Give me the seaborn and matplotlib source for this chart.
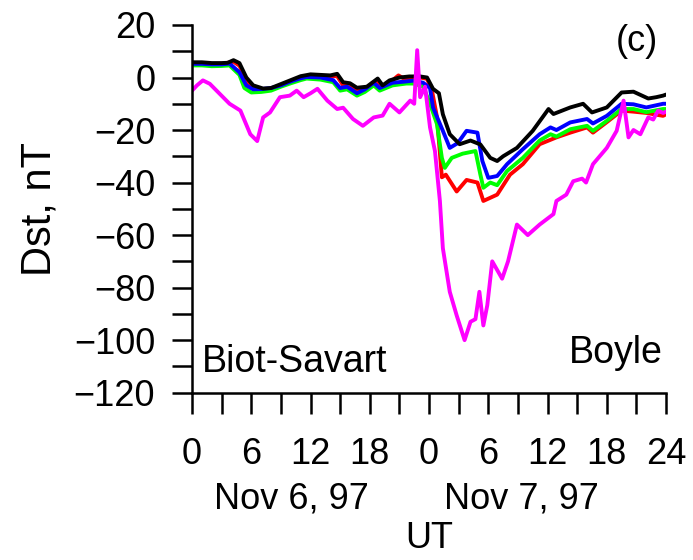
import seaborn as sns
import matplotlib.pyplot as plt
from matplotlib.ticker import MultipleLocator
import pandas as pd

# hours since 00 UT Nov 6, 1997 and Dst (nT)
black_t = [0, 1, 2, 3, 3.6, 4.2, 4.8, 5.5, 6.2, 7.2, 8, 9, 10, 11, 12, 13, 14, 14.7, 15.3, 16, 16.7,
           17.7, 18.8, 19.3, 20, 21, 22, 23.1, 23.8, 24.4, 25, 25.4, 26.1, 27.1, 28.2, 29.2, 30.2, 30.9,
           31.5, 32.9, 34.5, 36.1, 36.6, 38.3, 39.6, 40.5, 42, 43.5, 44.7, 46.2, 47, 47.7, 48]
black_v = [5.8, 5.8, 5.5, 5.5, 5.6, 6.6, 5.5, 0, -3, -4.2, -4, -2.5, -1, 0.5, 1.2, 1, 0.8, 1.4, -1.8, -2.2, -3.9,
           -3.5, -0.4, -3, -1.1, 0, 0.4, 0.4, 0, -4.3, -6, -14, -21.6, -25.4, -24, -25.5, -30.6, -31.8,
           -30, -26.8, -20.3, -12, -13.9, -11.4, -10, -13.3, -11.4, -5.7, -5.4, -8, -7.5, -6.9, -6.5]

blue_t = [0, 1, 2, 3, 3.8, 4.8, 5.5, 6.2, 7, 8, 9, 10, 11, 11.6, 13, 14.3, 15, 15.7, 16.7, 17.5, 18.4, 19,
          20.3, 21.7, 22.4, 23.4, 24.1, 24.4, 25.4, 26.1, 26.9, 27.8, 28.9, 29.4, 30, 30.9, 31.9, 33.5,
          35.2, 36.3, 36.9, 38.3, 40, 40.6, 42, 43.5, 44.7, 46, 47.7, 48]
blue_v = [5.2, 5.2, 5, 5, 5.3, 2, -3, -4.5, -4.4, -4, -3, -1.5, -0.3, 0.2, 0, -1, -4, -3.5, -6, -4.5, -2, -4,
          -2, -1.5, -1.2, -2, -4, -11.4, -20.3, -26.8, -25, -20.3, -21, -31.8, -38.2, -37.5, -33, -27.3,
          -21.6, -19, -20, -17.1, -15.8, -17.5, -14.6, -10, -10.2, -11.4, -10, -10]

green_t = [0, 1, 2, 3, 3.8, 4.8, 5.3, 6, 7, 8, 9, 10, 11, 11.6, 13, 14.3, 15, 15.7, 16.7, 17.5, 18.4, 19,
           20.3, 21.7, 22.4, 23.4, 24.1, 24.8, 25.3, 25.6, 26.3, 27.4, 28.7, 29.2, 29.5, 30.2, 30.9, 31.9,
           33.5, 35.2, 36.3, 36.9, 38.3, 40, 40.6, 42, 43.5, 44.7, 46, 47.7, 48]
green_v = [4.6, 4.6, 4.3, 4.4, 4.6, 1, -4, -5.7, -5.5, -5, -3.5, -2.2, -1, -0.4, -0.8, -1.8, -5, -4.5, -6.9,
           -5.5, -3, -5, -3, -2.3, -2.3, -3.4, -10, -17.7, -30.6, -34.4, -30.6, -29, -28, -37, -42, -40,
           -41, -35.6, -30.6, -24, -21.6, -22.5, -19.7, -18.4, -20.3, -16.5, -12, -12, -13.2, -12, -12]

red_t = [0, 1, 2, 3, 4.2, 4.8, 5.5, 6.2, 7.2, 8, 9, 10, 11, 12, 13, 14.7, 15.3, 16, 16.7, 17.7, 18.8, 19.3,
         20, 20.9, 21.5, 22.5, 23.1, 23.8, 24.3, 24.8, 25.3, 25.7, 26.8, 27.8, 28.9, 29.5, 30.9, 32.2,
         33.5, 35.2, 36.9, 38.3, 40, 40.6, 42, 43.5, 44.7, 46, 47.7, 48]
red_v = [5.4, 5.5, 5, 5.2, 6, 4.5, -1, -4, -5, -4.5, -3, -1.5, 0, 0.6, 0.5, 0.5, -3, -3, -5, -4.5, -1.5, -4,
         -2, 0.8, -0.5, 0, 0, -0.5, -5, -15, -38, -37, -43.4, -39, -40, -47, -44.6, -37,
         -33, -25.4, -22.8, -21, -19, -21, -17, -12.6, -13, -13.5, -14.6, -14]

magenta_t = [0, 0.5, 1.1, 1.8, 2.8, 3.8, 4.9, 5.9, 6.6, 7.2, 7.9, 8.9, 9.9, 10.6, 11.3, 12, 12.7, 13.7,
             14.7, 15.3, 16.3, 17.3, 18.4, 19.3, 20, 21, 22.1, 22.5, 22.8, 23.1, 23.6, 24.1, 24.6, 25.1,
             25.4, 26.1, 26.8, 27.6, 28.2, 28.7, 29.1, 29.5, 29.9, 30.4, 31.4, 32, 32.9, 34, 35.2, 36.6,
             36.9, 37.9, 38.6, 39.5, 39.9, 40.6, 42, 43, 43.7, 44.2, 44.7, 45.4, 46.2, 46.7, 47.2, 47.7, 48]
magenta_v = [-5, -3, -1.1, -2.4, -6.2, -10, -12.6, -21.6, -24.2, -15.2, -13.3, -7.5, -6.9, -5, -7.5, -6,
             -4.3, -8.8, -12, -11.5, -15.8, -18.4, -15.2, -14.5, -10, -13.3, -8.8, -10, 10.4, -7.5, -3.5,
             -19, -28, -47, -65, -81.6, -90.6, -100, -93, -92, -81.6, -94.4, -86.7, -70, -76.6, -70, -56,
             -60, -56, -52, -47, -44.6, -39.5, -38.5, -40, -33, -26.8, -20.3, -8.8, -22.8, -20, -21.6,
             -15.2, -16, -12.6, -13.5, -13]

x_ticks = [0, 6, 12, 18, 24, 30, 36, 42, 48]
x_labels = ['0', '6', '12', '18', '0', '6', '12', '18', '24']

series = {'red': (red_t, red_v), 'lime': (green_t, green_v), 'blue': (blue_t, blue_v),
          'black': (black_t, black_v), 'magenta': (magenta_t, magenta_v)}
df = pd.concat([pd.DataFrame({'UT': t, 'Dst': v, 'run': name}) for name, (t, v) in series.items()])

sns.set_style('ticks')
plt.rcParams['font.family'] = ['Liberation Sans', 'DejaVu Sans']
plt.rcParams['text.color'] = 'black'
plt.rcParams['axes.labelcolor'] = 'black'

fig = plt.figure(figsize=(6.93, 5.6), dpi=100)
ax = fig.add_axes([0.2771, 0.2988, 0.684, 0.6566])
sns.lineplot(data=df, x='UT', y='Dst', hue='run', hue_order=list(series.keys()),
             palette={k: k for k in series}, estimator=None, linewidth=2.8, legend=False, ax=ax)

ax.set_xlim(0, 48)
ax.set_ylim(-120, 20)
ax.set_xticks(x_ticks)
ax.set_xticklabels(x_labels)
ax.xaxis.set_minor_locator(MultipleLocator(3))
ax.yaxis.set_major_locator(MultipleLocator(20))
ax.yaxis.set_minor_locator(MultipleLocator(10))
for which in ['major', 'minor']:
    ax.tick_params(axis='x', which=which, direction='out', length=15, width=1.8, pad=17,
                   labelsize=26, colors='black')
    ax.tick_params(axis='y', which=which, direction='out', length=14.5, width=1.8, pad=12,
                   labelsize=26, colors='black')
for side in ['top', 'right']:
    ax.spines[side].set_visible(False)
for side in ['left', 'bottom']:
    ax.spines[side].set_linewidth(1.8)
    ax.spines[side].set_color('black')

ax.set_ylabel('Dst, nT', fontsize=30, labelpad=10)
ax.set_xlabel('UT', fontsize=26, labelpad=35)

xt = ax.get_xaxis_transform()
ax.text(10.1, -0.29, 'Nov 6, 97', transform=xt, ha='center', va='center', fontsize=26)
ax.text(33.4, -0.29, 'Nov 7, 97', transform=xt, ha='center', va='center', fontsize=26)
ax.text(0.939, 0.954, '(c)', transform=ax.transAxes, ha='center', va='center', fontsize=26)
ax.text(0.021, 0.056, 'Biot-Savart', transform=ax.transAxes, ha='left', va='baseline', fontsize=27)
ax.text(0.992, 0.08, 'Boyle', transform=ax.transAxes, ha='right', va='baseline', fontsize=27)

fig.savefig('out.png', dpi=100)
